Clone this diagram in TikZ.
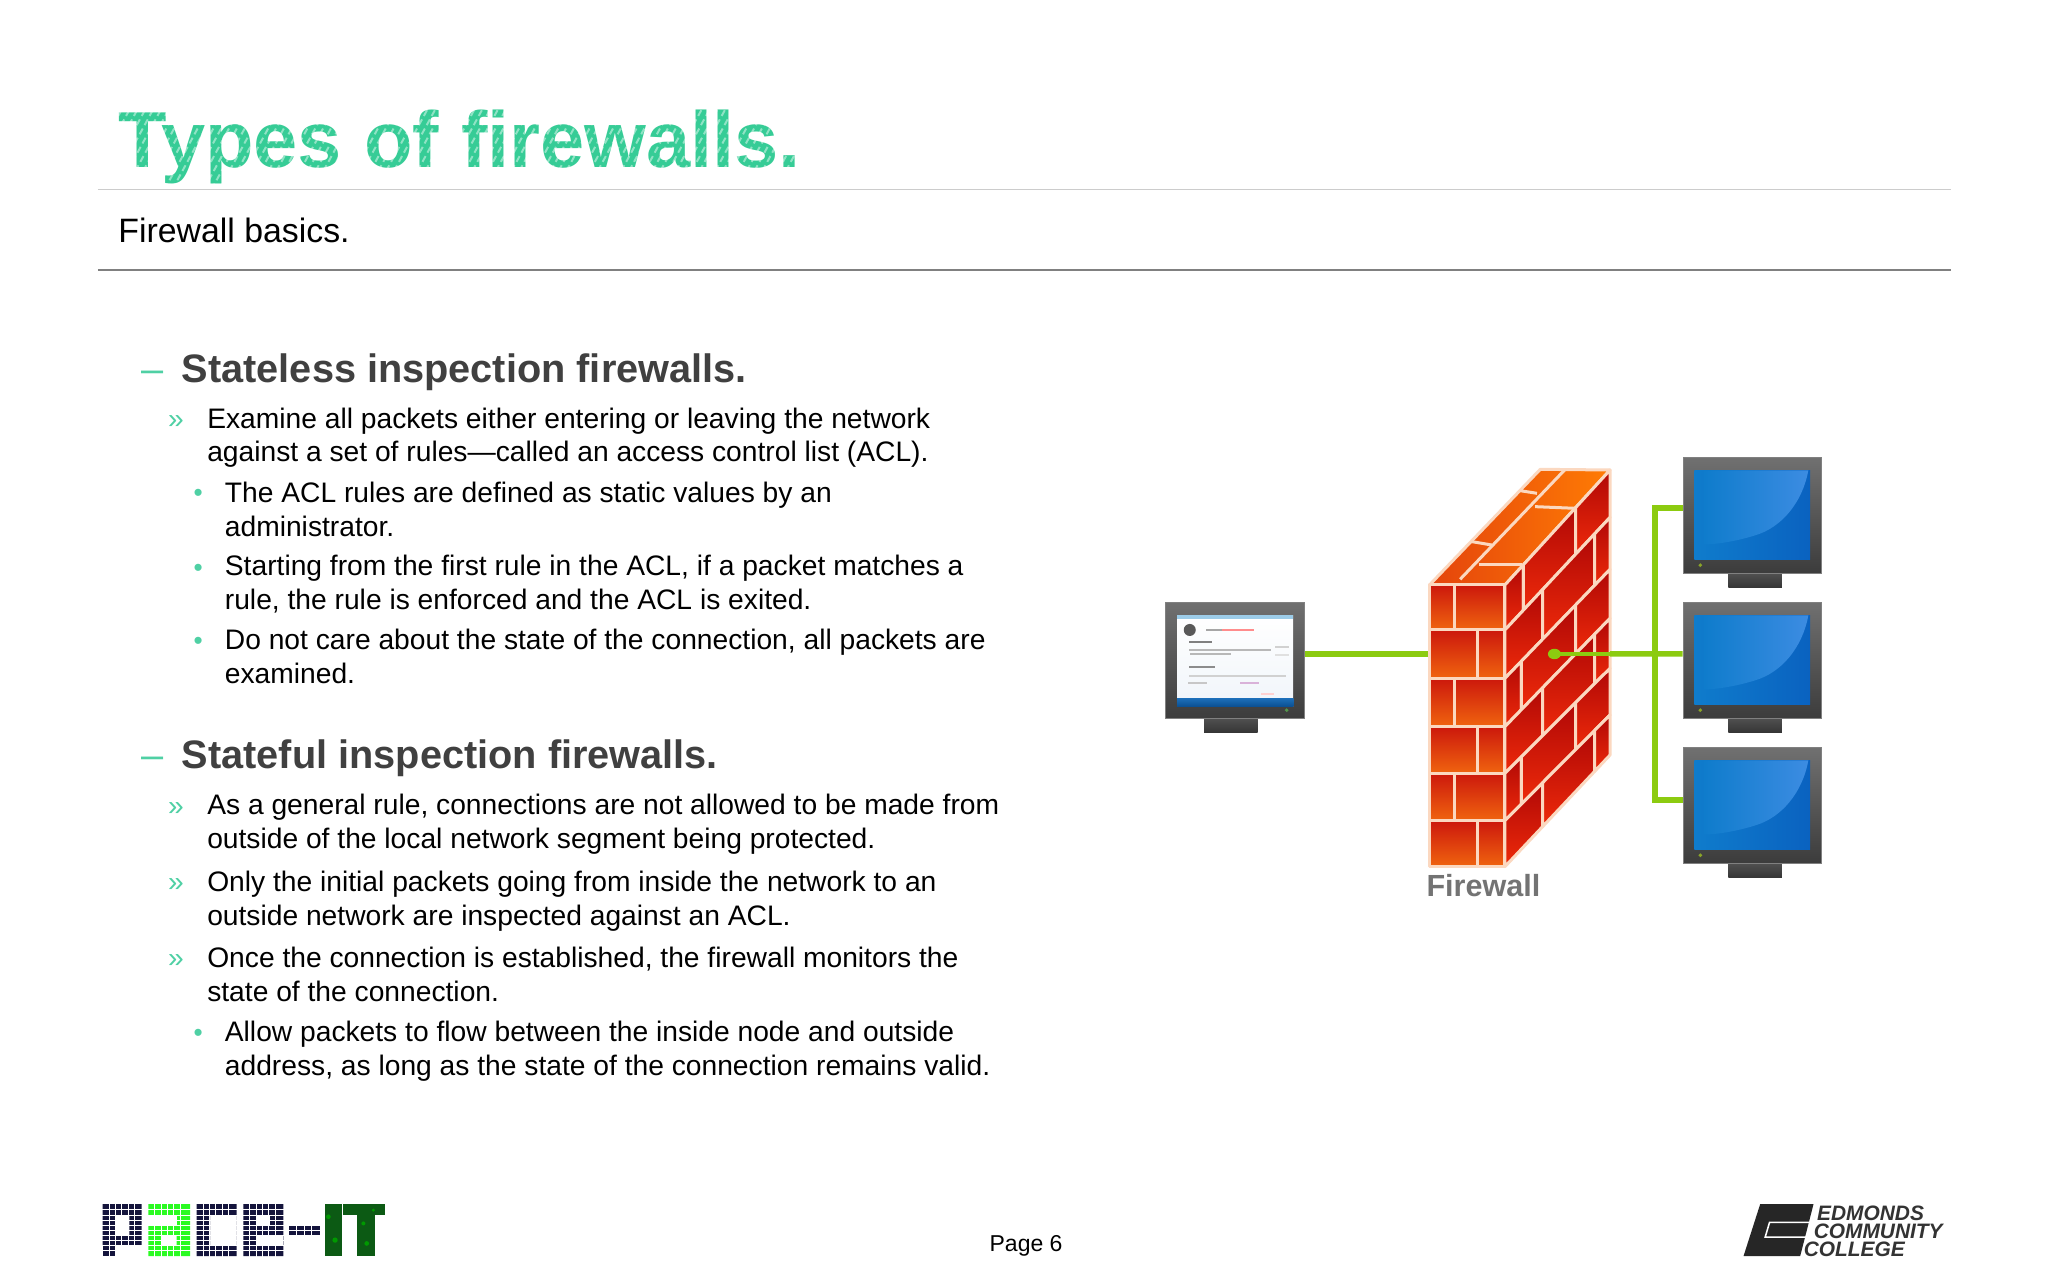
\documentclass[tikz,border=0pt]{standalone}
\usepackage{fontspec}
\usetikzlibrary{calc}
\setmainfont{Liberation Sans}
\newfontfamily\logofont[BoldItalicFont={Liberation Sans Bold Italic}]{Liberation Sans}
\definecolor{teal1}{HTML}{4FD0A4}
\definecolor{titlec}{HTML}{36CC96}
\definecolor{headc}{HTML}{404040}
\definecolor{mortar}{HTML}{FBD8C0}
\definecolor{wire}{HTML}{8CCB10}
\definecolor{navy}{HTML}{14143C}
\definecolor{lime}{HTML}{2BFB22}
\definecolor{itgreen}{HTML}{0C5A14}
\definecolor{scrleft}{HTML}{0F7CCC}
\definecolor{scrright}{HTML}{0A62C0}
\definecolor{glare}{HTML}{3C8CE2}
\definecolor{brickred}{HTML}{CC180C}
\definecolor{brickor}{HTML}{F0640F}
\definecolor{sidedark}{HTML}{B00806}
\definecolor{sidelight}{HTML}{EE2A0A}
\definecolor{topa}{HTML}{E4440C}
\definecolor{topb}{HTML}{FF7C04}
\definecolor{winbot}{HTML}{F0F5FA}
\definecolor{winband}{HTML}{9CCCE8}
\definecolor{winbluea}{HTML}{1C6EB8}
\definecolor{winblueb}{HTML}{0A4E90}
\definecolor{bezeltop}{HTML}{707070}
\definecolor{bezelbot}{HTML}{3C3C3C}
\definecolor{standtop}{HTML}{505050}
\definecolor{standbot}{HTML}{363636}
\definecolor{dotc}{HTML}{8AA428}
\tikzset{
  txt/.style={inner sep=0pt,anchor=base west,text=black,font=\fontsize{21.6}{26}\selectfont},
  head/.style={txt,text=headc,font=\fontsize{30.4}{34}\selectfont\bfseries},
  dashb/.style={txt,text=teal1,font=\fontsize{30.4}{34}\selectfont},
  chev/.style={txt,text=teal1},
  dotb/.style={txt,text=teal1,font=\fontsize{20}{26}\selectfont},
  bezel/.style={draw=black!50,line width=0.6pt,top color=bezeltop,bottom color=bezelbot,inner sep=0pt,anchor=north west,minimum width=106.2pt,minimum height=88.6pt},
  scrn/.style={inner sep=0pt,anchor=north west,minimum width=88.6pt,minimum height=68.6pt},
  stand/.style={inner sep=0pt,anchor=north,top color=standtop,bottom color=standbot,minimum width=41pt,minimum height=10.7pt},
  wireline/.style={draw=wire,line width=4.2pt},
  brickline/.style={draw=mortar,line width=2.3pt,line join=round},
}
\newcommand\bodyline[4]{\node[txt] (#1) at (#2,#3) {#4};}
\newcommand\monitorframe[4]{%
  \node[stand] (#1st) at ($(#2,#3)+(#4,88.6)$) {};
  \node[bezel] (#1) at (#2,#3) {};
}
\newcommand\bluescreen[1]{%
  \node[scrn,left color=scrleft,right color=scrright] (#1s) at ($(#1.north west)+(8.7,9.7)$) {};
  \shade[left color=scrleft,right color=glare] ($(#1s.north west)+(8,0.3)$) -- ($(#1s.north east)+(-1.5,0.3)$) .. controls ($(#1s.north east)+(-6,25)$) and ($(#1s.north east)+(-22,44)$) .. ($(#1s.north east)+(-42,50)$) .. controls ($(#1s.north east)+(-58,55)$) and ($(#1s.north west)+(16,57)$) .. ($(#1s.north west)+(8,57)$) -- cycle;
  \fill[dotc] ($(#1.south west)+(13.5,-6.6)$) circle (1.5);
}
\begin{document}
\begin{tikzpicture}[x=1pt,y=-1pt]
\useasboundingbox (0,0) rectangle (1568,980);
\fill[white] (0,0) rectangle (1568,980);
% header
\node[txt,text=titlec,font=\fontsize{60.8}{64}\selectfont\bfseries] (title) at (90.5,128) {Types of firewalls.};
\begin{scope}
\clip (85,78) rectangle (625,145);
\foreach \k in {0,6,...,600} {
  \draw[white,opacity=0.45,line width=1.5pt,dash pattern=on 5pt off 3pt] (60+\k,145) -- (60+\k+38,75);
}
\end{scope}
\coordinate (r1a) at (75,145); \coordinate (r1b) at (1494,145);
\coordinate (r2a) at (75,207); \coordinate (r2b) at (1494,207);
\draw[black!20,line width=0.9pt] (r1a) -- (r1b);
\draw[black!50,line width=1.7pt] (r2a) -- (r2b);
\node[txt,font=\fontsize{25.9}{30}\selectfont] (sub) at (90.5,186) {Firewall basics.};
% body
\node[dashb] (d1) at (108.5,292.5) {–};
\node[head] (h1) at (139,292.5) {Stateless inspection firewalls.};
\node[chev] (c1) at (128.5,328) {»};
\bodyline{a1}{158.5}{327.7}{Examine all packets either entering or leaving the network}
\bodyline{a2}{158.5}{353.7}{against a set of rules—called an access control list (ACL).}
\node[dotb] (b1) at (148,384) {•};
\bodyline{a3}{172}{384.5}{The ACL rules are defined as static values by an}
\bodyline{a4}{172}{410.5}{administrator.}
\node[dotb] (b2) at (148,441) {•};
\bodyline{a5}{172}{440.7}{Starting from the first rule in the ACL, if a packet matches a}
\bodyline{a6}{172}{466.7}{rule, the rule is enforced and the ACL is exited.}
\node[dotb] (b3) at (148,497) {•};
\bodyline{a7}{172}{497.5}{Do not care about the state of the connection, all packets are}
\bodyline{a8}{172}{523.5}{examined.}
\node[dashb] (d2) at (108.5,588.3) {–};
\node[head] (h2) at (139,588.3) {Stateful inspection firewalls.};
\node[chev] (c2) at (128.5,624) {»};
\bodyline{s1}{158.5}{623.7}{As a general rule, connections are not allowed to be made from}
\bodyline{s2}{158.5}{649.7}{outside of the local network segment being protected.}
\node[chev] (c3) at (128.5,682.5) {»};
\bodyline{s3}{158.5}{682.5}{Only the initial packets going from inside the network to an}
\bodyline{s4}{158.5}{708.5}{outside network are inspected against an ACL.}
\node[chev] (c4) at (128.5,741) {»};
\bodyline{s5}{158.5}{741}{Once the connection is established, the firewall monitors the}
\bodyline{s6}{158.5}{767}{state of the connection.}
\node[dotb] (b4) at (148,797.5) {•};
\bodyline{s7}{172}{797.5}{Allow packets to flow between the inside node and outside}
\bodyline{s8}{172}{823.5}{address, as long as the state of the connection remains valid.}
\node[txt,font=\fontsize{17.6}{20}\selectfont] (pg) at (757.5,958.5) {Page 6};
% monitors
\monitorframe{m1}{1288.3}{350.1}{55.4}
\monitorframe{m2}{1288.3}{461.1}{55.4}
\monitorframe{m3}{1288.3}{572.2}{55.4}
\monitorframe{m0}{892.3}{461.1}{50}
\bluescreen{m1}\bluescreen{m2}\bluescreen{m3}
% left screen window
\node[scrn,minimum height=70pt,top color=white,bottom color=winbot] (m0s) at ($(m0.north west)+(8.9,9.7)$) {};
\shade[top color=winbluea,bottom color=winblueb] ($(m0s.south west)+(0,-6.4)$) rectangle (m0s.south east);
\fill[winband] (m0s.north west) rectangle ($(m0s.north east)+(0,3)$);
\fill[black!65] ($(m0s.north west)+(9.7,11.5)$) circle (4.6);
\fill[black!35] ($(m0s.north west)+(22,11)$) rectangle ($(m0s.north west)+(34,12.2)$);
\fill[red!45!white] ($(m0s.north west)+(34,11)$) rectangle ($(m0s.north west)+(59,12.2)$);
\foreach \yy/\xa/\xb/\col in {20/9/27/black!50,26/9/72/black!28,29.5/10/41/black!28,39/9/29/black!45,46/9/83/black!18,51/8/23/black!22,51/48/63/violet!30,60/64/74/red!18,24/75/86/black!18,30/75/86/black!12} {
  \fill[\col] ($(m0s.north west)+(\xa,\yy)$) rectangle ($(m0s.north west)+(\xb,\yy+1.5)$);
}
\fill[dotc!60!teal] ($(m0.south east)+(-14,-6.6)$) circle (1.5);
% wires
\coordinate (walll) at (1094,500.7);
\coordinate (jn1) at (1267,389);
\coordinate (jn2) at (1267,500.7);
\coordinate (jn3) at (1267,612.5);
\draw[wireline] (m0.east |- walll) -- (walll);
\draw[wireline] (m1.west |- jn1) -- (jn1) -- (jn3) -- (m3.west |- jn3);
% wall
\begin{scope}[shift={(865.2,329.2)},x=0.361pt,y=-0.2552pt]
  % top
  \shadedraw[brickline,left color=topa,right color=topb] (635,465) -- (795,465) -- (1018,120) -- (870,118) -- cycle;
  \foreach \pax/\pay/\pbx/\pby in {700/448/923/118,725/335/767/345,827/182/863/190,739/405/831/405,859/230/944/235} {
    \draw[brickline] (\pax,\pay) -- (\pbx,\pby);
  }
  % side
  \foreach \yfa/\yra/\yfb/\yrb/\ja/\jb in {465/120/600/262/834/945, 600/262/745/418/875/985, 745/418/890/565/830/945, 890/565/1030/715/875/985, 1030/715/1172/855/830/945, 1172/855/1310/975/875/985} {
    \foreach \sa/\sb in {795/\ja,\ja/\jb,\jb/1018} {
      \pgfmathsetmacro\ya{\yfa+(\yra-\yfa)*((\sa-795)/223)}
      \pgfmathsetmacro\yb{\yfa+(\yra-\yfa)*((\sb-795)/223)}
      \pgfmathsetmacro\yc{\yfb+(\yrb-\yfb)*((\sb-795)/223)}
      \pgfmathsetmacro\yd{\yfb+(\yrb-\yfb)*((\sa-795)/223)}
      \shadedraw[brickline,top color=sidedark,bottom color=sidelight] (\sa,\ya) -- (\sb,\yb) -- (\sb,\yc) -- (\sa,\yd) -- cycle;
    }
  }
  % front
  \foreach \ya/\yb/\j in {465/600/688, 600/745/737, 745/890/688, 890/1030/737, 1030/1172/688, 1172/1310/737} {
    \shadedraw[brickline,top color=brickred,bottom color=brickor] (635,\ya) rectangle (\j,\yb);
    \shadedraw[brickline,top color=brickred,bottom color=brickor] (\j,\ya) rectangle (795,\yb);
  }
  \coordinate (plug) at (900,672);
  \coordinate (wallr) at (1018,672);
\end{scope}
\fill[wire] (plug) ellipse (5 and 4);
\draw[wireline,line width=3.6pt] (plug) -- (wallr);
\draw[wireline] (wallr) -- (jn2) -- (m2.west |- jn2);
\node[txt,text=black!55,font=\fontsize{23.4}{26}\selectfont\bfseries] (fw) at (1092,686) {Firewall};
% PACE-IT logo
\begin{scope}[shift={(61.3,903.5)},x=0.2552pt,y=-0.2552pt]
  \fill[navy,even odd rule] (68,72) rectangle (185,195) (105,105) rectangle (148,165);
  \fill[navy] (68,195) rectangle (105,228);
  \fill[lime,even odd rule] (205,72) rectangle (330,228) (245,165) rectangle (290,195);
  \fill[white] (205,105) rectangle (290,135);
  \fill[navy,even odd rule] (350,72) rectangle (470,228) (390,105) rectangle (470,195);
  \fill[navy,even odd rule] (490,72) rectangle (610,228) (530,105) rectangle (570,135);
  \fill[white] (530,165) rectangle (610,195);
  \fill[navy] (628,135) rectangle (720,165);
  \foreach \gx in {87,106,125,144,163,224,243,262,281,300,369,388,407,426,445,509,528,547,566,585,650,672,695} {
    \draw[white,line width=0.45pt] (\gx,70) -- (\gx,230);
  }
  \foreach \gy in {88,105,122,135,150,165,180,195,212} {
    \draw[white,line width=0.45pt] (62,\gy) -- (725,\gy);
  }
  \fill[itgreen] (735,72) rectangle (785,228);
  \fill[itgreen] (790,72) rectangle (915,105);
  \fill[itgreen] (830,72) rectangle (885,228);
  \fill[green!60!black] (745,110) circle (7) (765,180) circle (8) (850,130) circle (6) (860,190) circle (7) (880,90) circle (5);
\end{scope}
% college logo
\begin{scope}[shift={(1301.7,903.5)},x=0.2552pt,y=-0.2552pt]
  \fill[black!85] (180,72) -- (340,72) -- (300,228) -- (130,228) -- cycle;
  \draw[white,line width=1.2pt] (337,127) -- (208,127) -- (195,171) -- (318,171);
  \coordinate (t1) at (350,120); \coordinate (t2) at (340,175); \coordinate (t3) at (310,228);
\end{scope}
\node[txt,text=black!80,font=\logofont\fontsize{16}{16}\selectfont\bfseries\itshape] (e1) at (t1) {EDMONDS};
\node[txt,text=black!80,font=\logofont\fontsize{16}{16}\selectfont\bfseries\itshape] (e2) at (t2) {COMMUNITY};
\node[txt,text=black!80,font=\logofont\fontsize{16}{16}\selectfont\bfseries\itshape] (e3) at (t3) {COLLEGE};
\end{tikzpicture}
\end{document}
